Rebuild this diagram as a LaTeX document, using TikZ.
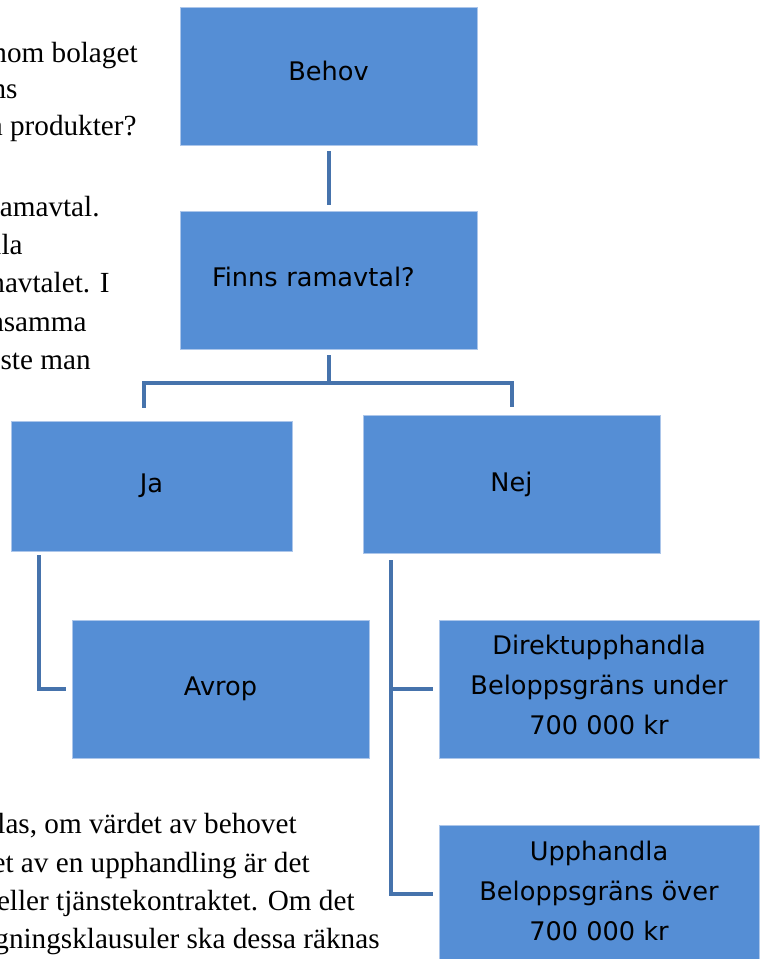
\documentclass[tikz,border=0pt]{standalone}
\usepackage{fontspec}
\setmainfont{Liberation Serif}
\newfontfamily\boxfont{DejaVu Sans}
\usepackage{xcolor}
\usepackage{tikz}
\definecolor{boxblue}{RGB}{85, 142, 213}
\definecolor{lineblue}{RGB}{70, 115, 172}
\definecolor{edgeblue}{RGB}{172, 198, 234}

\begin{document}
\begin{tikzpicture}[x=0.5pt, y=-0.5pt,
    box/.style={rectangle, fill=boxblue, draw=edgeblue, line width=0.4pt, minimum width=148.5pt, minimum height=69pt, align=center, inner sep=2pt, font=\boxfont\fontsize{12.8}{20}\selectfont},
    link/.style={draw=lineblue, line width=2pt},
    bodytext/.style={anchor=base east, inner sep=0pt, font=\fontsize{14.6}{19}\selectfont}
]
    \useasboundingbox (0, 0) rectangle (760, 959);
    \clip (0, 0) rectangle (760, 959);

    % Running text behind the chart
    \node[bodytext] (t1) at (138, 62) {nom bolaget};
    \node[bodytext] (t2) at (18, 98) {ns};
    \node[bodytext] (t3) at (137, 135) {a produkter?};
    \node[bodytext] (t4) at (100, 216) {ramavtal.};
    \node[bodytext] (t5) at (23, 254) {lla};
    \node[bodytext] (t6) at (110, 292) {navtalet. I};
    \node[bodytext] (t7) at (87, 331) {nsamma};
    \node[bodytext] (t8) at (91, 369) {ste man};
    \node[bodytext] (t9) at (2, 628) {.};
    \node[bodytext] (t10) at (297, 833) {las, om värdet av behovet};
    \node[bodytext] (t11) at (310, 872) {et av en upphandling är det};
    \node[bodytext] (t12) at (355, 910) {eller tjänstekontraktet. Om det};
    \node[bodytext] (t13) at (380, 948) {gningsklausuler ska dessa räknas};

    % Boxes
    \node[box, text depth=5pt] (behov) at (328.5, 76) {Behov};
    \node[box, align=left, text width=116.5pt, inner xsep=16pt, text depth=3pt] (finns) at (328.5, 280) {Finns ramavtal?};
    \node[box, minimum width=140.5pt, minimum height=65pt] (ja) at (151.5, 486) {Ja};
    \node[box] (nej) at (511.5, 484) {Nej};
    \node[box] (avrop) at (220.5, 689) {Avrop};
    \node[box, minimum width=160pt, text depth=4pt] (direkt) at (599, 689) {Direktupphandla\\Beloppsgräns under\\700 000 kr};
    \node[box, minimum width=160pt, text depth=3.5pt] (upph) at (599, 894) {Upphandla\\Beloppsgräns över\\700 000 kr};

    % Connectors
    \coordinate (fork) at (328.5, 383);
    \draw[link, shorten <=3pt, shorten >=3pt] (behov) -- (finns);
    \draw[link] ([yshift=-3pt]finns.south) -- (fork);
    \draw[link] (fork) -| ([xshift=-3.75pt, yshift=6.5pt]ja.north);
    \draw[link] (fork) -| ([yshift=4pt]nej.north);
    \draw[link] ([xshift=14pt, yshift=-2pt]ja.south west) |- ([xshift=-3pt]avrop.west);
    \draw[link] ([xshift=14pt, yshift=-3.5pt]nej.south west) |- ([xshift=-3pt]direkt.west);
    \draw[link] ([xshift=14pt, yshift=-3.5pt]nej.south west) |- ([xshift=-3pt]upph.west);
\end{tikzpicture}
\end{document}
